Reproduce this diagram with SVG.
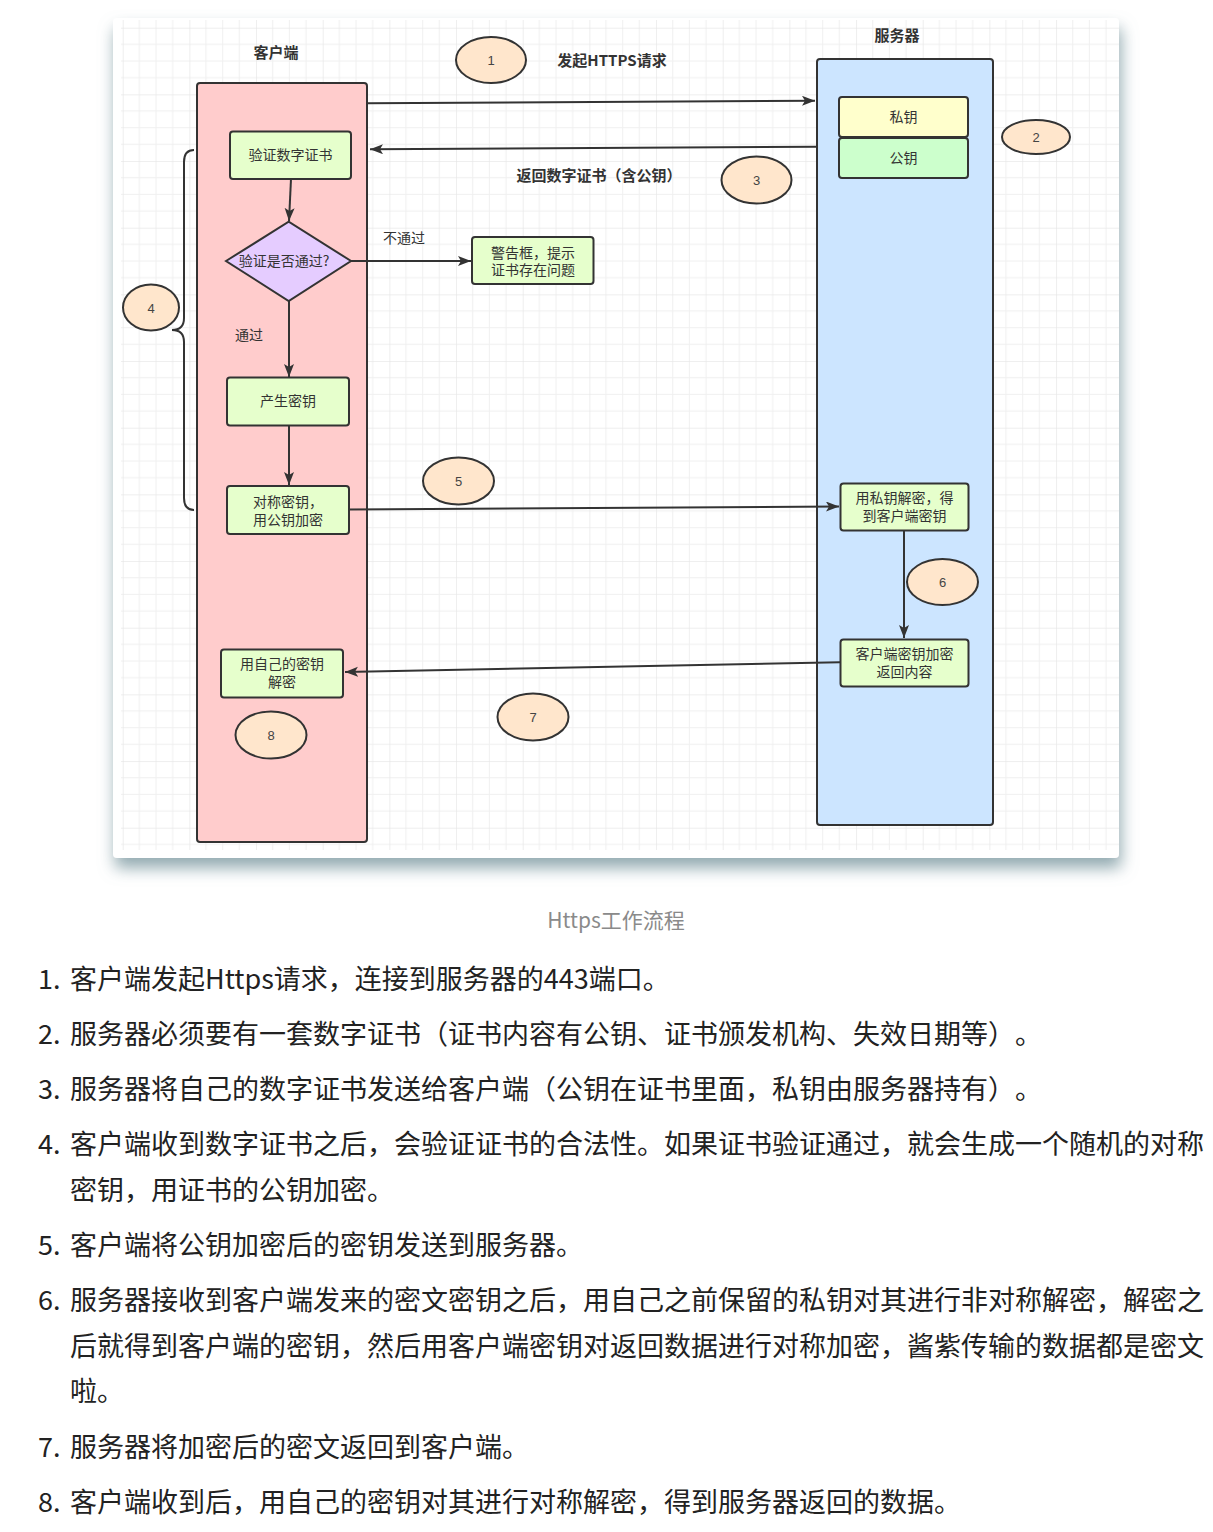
<svg xmlns="http://www.w3.org/2000/svg" width="1213" height="1532" viewBox="0 0 1213 1532">
<style>
text{text-spacing-trim:space-all}
.cjk{font-family:"Noto Sans CJK SC","Noto Sans",sans-serif}
.lbl{font-family:"Noto Sans CJK SC","Noto Sans",sans-serif;font-size:14px;fill:#333;text-anchor:middle}
.title{font-family:"Noto Sans CJK SC","Noto Sans",sans-serif;font-size:15px;font-weight:bold;fill:#333;text-anchor:middle}
.num{font-family:"Liberation Sans","Noto Sans",sans-serif;font-size:13px;fill:#444;text-anchor:middle}
.node{stroke:#333;stroke-width:2}
.green{fill:#e6ffcc}
.ell{fill:#ffe6cc;stroke:#333;stroke-width:2}
.edge{fill:none;stroke:#333;stroke-width:2}
.list{font-family:"Noto Sans CJK SC","Noto Sans",sans-serif;font-size:27px;fill:#222}
</style>
<defs>
<pattern id="grid" patternUnits="userSpaceOnUse" x="122.7" y="27.7" width="66.667" height="66.667">
<path d="M0 0H66.667M0 16.667H66.667M0 33.333H66.667M0 50H66.667M0 0V66.667M16.667 0V66.667M33.333 0V66.667M50 0V66.667" stroke="#f0f0f0" stroke-width="1" fill="none"/>
<path d="M0 0H66.667M0 0V66.667" stroke="#e4e4e4" stroke-width="1" fill="none"/>
</pattern>
<filter id="shadow" x="-5%" y="-5%" width="110%" height="115%">
<feDropShadow dx="2" dy="10" stdDeviation="8" flood-color="#7f9ba3" flood-opacity="0.85"/>
</filter>
<marker id="arr" markerUnits="userSpaceOnUse" markerWidth="14" markerHeight="12" refX="13" refY="5" orient="auto">
<path d="M0,0 L13,5 L0,10 L3,5 Z" fill="#333"/>
</marker>
</defs>

<rect x="113" y="18" width="1006" height="840" rx="4" fill="#fff" filter="url(#shadow)"/>
<rect x="121" y="20" width="998" height="830" fill="url(#grid)"/>

<g id="client">
<rect class="node" x="197" y="83" width="170" height="759" rx="3" fill="#ffcccc"/>
<text class="title" x="276" y="58" font-size="16">客户端</text>
</g>
<g id="server">
<rect class="node" x="817" y="59" width="176" height="766" rx="3" fill="#cce5ff"/>
<text class="title" x="897" y="41" font-size="16">服务器</text>
</g>

<g id="connectors">
<path class="edge" d="M367,103.3 L815,100.7" marker-end="url(#arr)"/>
<path class="edge" d="M817,146.7 L370,149.3" marker-end="url(#arr)"/>
<path class="edge" d="M291,179 L289,221" marker-end="url(#arr)"/>
<path class="edge" d="M351,261 L471,261" marker-end="url(#arr)"/>
<path class="edge" d="M289,301 L289,377" marker-end="url(#arr)"/>
<path class="edge" d="M289,426 L289,485" marker-end="url(#arr)"/>
<path class="edge" d="M349,509.5 L839,506.5" marker-end="url(#arr)"/>
<path class="edge" d="M904,531 L904,638" marker-end="url(#arr)"/>
<path class="edge" d="M840,662.3 L345,672" marker-end="url(#arr)"/>
<path class="edge" d="M194,150 Q184,150 184,162 L184,318 Q184,330 172,330 Q184,330 184,342 L184,498 Q184,510 194,510"/>
<text class="title" x="612" y="66">发起HTTPS请求</text>
<text class="title" x="599" y="181">返回数字证书（含公钥）</text>
<text class="lbl" x="404" y="243">不通过</text>
<text class="lbl" x="249" y="340">通过</text>
</g>

<g id="privkey">
<rect class="node" x="839" y="97" width="129" height="40" rx="3" fill="#ffffcc"/>
<text class="lbl" x="903.5" y="122">私钥</text>
</g>
<g id="pubkey">
<rect class="node" x="839" y="138" width="129" height="40" rx="3" fill="#ccffcc"/>
<text class="lbl" x="903.5" y="163">公钥</text>
</g>
<g id="verify">
<rect class="node green" x="230" y="131.5" width="121" height="47.5" rx="3"/>
<text class="lbl" x="290.5" y="160">验证数字证书</text>
</g>
<g id="decision">
<polygon class="node" points="226,261 288.7,221.7 351,261 288.7,301" fill="#e5ccff"/>
<text class="lbl" x="284" y="266">验证是否通过?</text>
</g>
<g id="warn">
<rect class="node green" x="472" y="237" width="121.5" height="47" rx="3"/>
<text class="lbl" x="533" y="258">警告框，提示</text>
<text class="lbl" x="533" y="275">证书存在问题</text>
</g>
<g id="genkey">
<rect class="node green" x="227" y="377.5" width="122" height="48" rx="3"/>
<text class="lbl" x="288" y="406">产生密钥</text>
</g>
<g id="encrypt">
<rect class="node green" x="227" y="486" width="122" height="48" rx="3"/>
<text class="lbl" x="288" y="507">对称密钥，</text>
<text class="lbl" x="288" y="525">用公钥加密</text>
</g>
<g id="serverdecrypt">
<rect class="node green" x="840.5" y="483.5" width="128" height="47" rx="3"/>
<text class="lbl" x="904.5" y="503">用私钥解密，得</text>
<text class="lbl" x="904.5" y="521">到客户端密钥</text>
</g>
<g id="serverencrypt">
<rect class="node green" x="840.5" y="639.5" width="128" height="47" rx="3"/>
<text class="lbl" x="904.5" y="659">客户端密钥加密</text>
<text class="lbl" x="904.5" y="677">返回内容</text>
</g>
<g id="clientdecrypt">
<rect class="node green" x="221" y="649.5" width="122" height="48" rx="3"/>
<text class="lbl" x="282" y="669">用自己的密钥</text>
<text class="lbl" x="282" y="687">解密</text>
</g>

<g id="step1"><ellipse class="ell" cx="491" cy="60" rx="35" ry="23"/><text class="num" x="491" y="65">1</text></g>
<g id="step2"><ellipse class="ell" cx="1036" cy="137" rx="34" ry="17"/><text class="num" x="1036" y="142">2</text></g>
<g id="step3"><ellipse class="ell" cx="756.5" cy="180" rx="35" ry="23.5"/><text class="num" x="756.5" y="185">3</text></g>
<g id="step4"><ellipse class="ell" cx="151" cy="307.5" rx="28" ry="23"/><text class="num" x="151" y="312.5">4</text></g>
<g id="step5"><ellipse class="ell" cx="458.5" cy="481" rx="35.5" ry="23.5"/><text class="num" x="458.5" y="486">5</text></g>
<g id="step6"><ellipse class="ell" cx="942.5" cy="582" rx="35.5" ry="23"/><text class="num" x="942.5" y="587">6</text></g>
<g id="step7"><ellipse class="ell" cx="533" cy="717" rx="35.5" ry="23.5"/><text class="num" x="533" y="722">7</text></g>
<g id="step8"><ellipse class="ell" cx="271" cy="735" rx="35.5" ry="23.5"/><text class="num" x="271" y="740">8</text></g>

<text class="cjk" x="616" y="928" font-size="21" fill="#8a8a8a" text-anchor="middle">Https工作流程</text>

<g id="list" class="list">
<text x="38" y="989">1.</text><text x="70" y="989">客户端发起Https请求，连接到服务器的443端口。</text>
<text x="38" y="1044">2.</text><text x="70" y="1044">服务器必须要有一套数字证书（证书内容有公钥、证书颁发机构、失效日期等）。</text>
<text x="38" y="1099">3.</text><text x="70" y="1099">服务器将自己的数字证书发送给客户端（公钥在证书里面，私钥由服务器持有）。</text>
<text x="38" y="1154">4.</text><text x="70" y="1154">客户端收到数字证书之后，会验证证书的合法性。如果证书验证通过，就会生成一个随机的对称</text>
<text x="70" y="1200">密钥，用证书的公钥加密。</text>
<text x="38" y="1255">5.</text><text x="70" y="1255">客户端将公钥加密后的密钥发送到服务器。</text>
<text x="38" y="1310">6.</text><text x="70" y="1310">服务器接收到客户端发来的密文密钥之后，用自己之前保留的私钥对其进行非对称解密，解密之</text>
<text x="70" y="1356">后就得到客户端的密钥，然后用客户端密钥对返回数据进行对称加密，酱紫传输的数据都是密文</text>
<text x="70" y="1401">啦。</text>
<text x="38" y="1457">7.</text><text x="70" y="1457">服务器将加密后的密文返回到客户端。</text>
<text x="38" y="1512">8.</text><text x="70" y="1512">客户端收到后，用自己的密钥对其进行对称解密，得到服务器返回的数据。</text>
</g>
</svg>
